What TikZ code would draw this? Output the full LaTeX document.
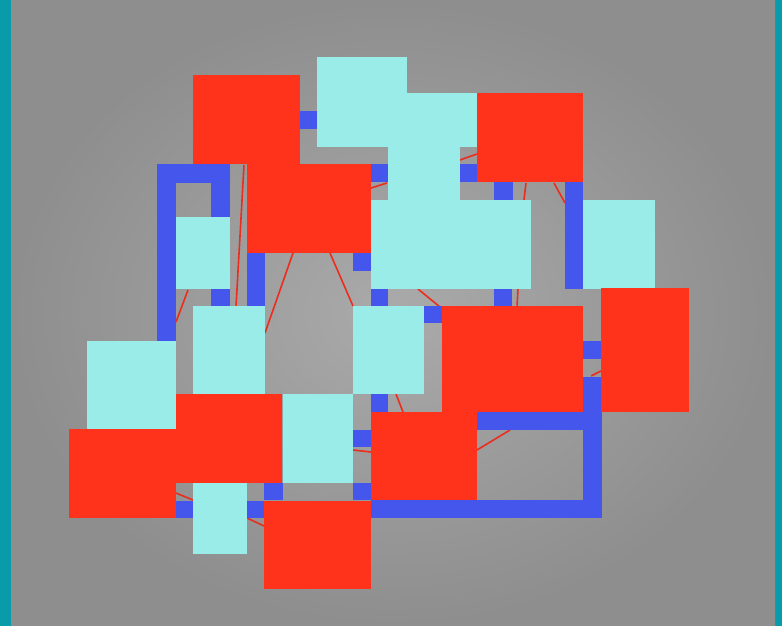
\documentclass[tikz,border=0pt]{standalone}
\begin{document}
\begin{tikzpicture}[x=1pt,y=-1pt,
  redroom/.style={fill=roomred},
  cyanroom/.style={fill=roomcyan},
  corr/.style={fill=corrblue},
  link/.style={draw=linkred,line width=1.6pt}]
\definecolor{roomred}{RGB}{255,50,28}
\definecolor{roomcyan}{RGB}{154,236,233}
\definecolor{corrblue}{RGB}{68,86,236}
\definecolor{linkred}{RGB}{235,45,30}
\definecolor{frameteal}{RGB}{10,155,170}
\useasboundingbox (0,0) rectangle (782,626);
\fill[frameteal] (0,0) rectangle (782,626);
\shade[inner color={rgb,255:red,170;green,170;blue,170}, outer color={rgb,255:red,142;green,142;blue,142}] (11,1) rectangle (775,626);
% links
\draw[link] (244,165) -- (236,307);
\draw[link] (293,253) -- (265,333);
\draw[link] (330,253) -- (353,306);
\draw[link] (188,290) -- (176,322);
\draw[link] (371,188) -- (387,183);
\draw[link] (460,160) -- (477,154);
\draw[link] (526,183) -- (524,200);
\draw[link] (554,183) -- (565,203);
\draw[link] (418,289) -- (440,307);
\draw[link] (518,289) -- (517,307);
\draw[link] (591,376) -- (601,371);
\draw[link] (396,394) -- (403,412);
\draw[link] (477,450) -- (510,430);
\draw[link] (353,450) -- (371,452);
\draw[link] (176,493) -- (193,500);
\draw[link] (247,518) -- (264,526);
% corridors
\fill[corr] (300,111) rectangle (317,129);
\fill[corr] (157,164) rectangle (230,183);
\fill[corr] (157,164) rectangle (176,341);
\fill[corr] (211,164) rectangle (230,217);
\fill[corr] (211,289) rectangle (230,307);
\fill[corr] (247,253) rectangle (265,307);
\fill[corr] (371,164) rectangle (388,182);
\fill[corr] (460,164) rectangle (477,182);
\fill[corr] (353,253) rectangle (371,271);
\fill[corr] (371,289) rectangle (388,306);
\fill[corr] (494,289) rectangle (512,306);
\fill[corr] (494,182) rectangle (513,200);
\fill[corr] (565,182) rectangle (583,289);
\fill[corr] (583,341) rectangle (601,359);
\fill[corr] (477,412) rectangle (602,430);
\fill[corr] (583,377) rectangle (602,518);
\fill[corr] (371,500) rectangle (602,518);
\fill[corr] (424,306) rectangle (442,323);
\fill[corr] (371,394) rectangle (388,412);
\fill[corr] (353,430) rectangle (371,447);
\fill[corr] (353,483) rectangle (371,500);
\fill[corr] (176,501) rectangle (193,518);
\fill[corr] (247,501) rectangle (265,518);
\fill[corr] (264,483) rectangle (283,500);
% cyan rooms
\fill[cyanroom] (317,57) rectangle (407,147);
\fill[cyanroom] (407,93) rectangle (477,147);
\fill[cyanroom] (388,147) rectangle (460,217);
\fill[cyanroom] (371,200) rectangle (531,289);
\fill[cyanroom] (176,217) rectangle (230,289);
\fill[cyanroom] (583,200) rectangle (655,289);
\fill[cyanroom] (353,306) rectangle (424,394);
\fill[cyanroom] (283,394) rectangle (353,483);
\fill[cyanroom] (87,341) rectangle (176,429);
\fill[cyanroom] (193,306) rectangle (265,394);
\fill[cyanroom] (193,483) rectangle (247,554);
% red rooms
\fill[redroom] (193,75) rectangle (300,164);
\fill[redroom] (247,164) rectangle (371,253);
\fill[redroom] (477,93) rectangle (583,182);
\fill[redroom] (601,288) rectangle (689,412);
\fill[redroom] (442,306) rectangle (583,412);
\fill[redroom] (371,412) rectangle (477,500);
\fill[redroom] (69,429) rectangle (176,518);
\fill[redroom] (176,394) rectangle (282,483);
\fill[redroom] (264,501) rectangle (371,589);
\end{tikzpicture}
\end{document}
